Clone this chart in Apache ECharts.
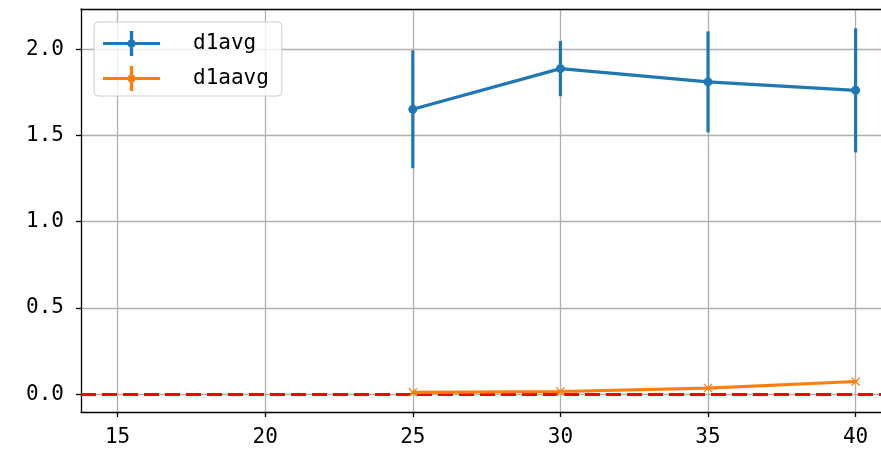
<!DOCTYPE html>
<html>
<head>
<meta charset="utf-8">
<script src="https://cdn.jsdelivr.net/npm/echarts@6/dist/echarts.min.js"></script>
<style>
html,body{margin:0;padding:0;background:#fff;}
#chart{width:881px;height:456px;}
</style>
</head>
<body>
<div id="chart"></div>
<script>
// ---- data ----
const xValues = [25, 30, 35, 40];
const d1avg = [1.652, 1.888, 1.811, 1.762];
const d1avgErr = [0.342, 0.160, 0.293, 0.360];
const d1aavg = [0.010, 0.015, 0.035, 0.073];
const d1aavgErr = [0.005, 0.005, 0.006, 0.006];
const xTicks = [15, 20, 25, 30, 35, 40];
const yTicks = [0, 0.5, 1.0, 1.5, 2.0];
const refLine = 0;

const FONT = "'DejaVu Sans Mono', monospace";
const BLUE = '#1f77b4';
const ORANGE = '#ff7f0e';

const lineData = (ys) => xValues.map((x, i) => [x, ys[i]]);
const errData = (ys, es) => xValues.map((x, i) => [x, ys[i] - es[i], ys[i] + es[i]]);

function errRender(color) {
  return function (params, api) {
    const x = api.value(0);
    const p1 = api.coord([x, api.value(1)]);
    const p2 = api.coord([x, api.value(2)]);
    return {
      type: 'line',
      shape: { x1: p1[0], y1: p1[1], x2: p2[0], y2: p2[1] },
      style: { stroke: color, lineWidth: 3.2 }
    };
  };
}

const legendIcon = 'path://M0,11 L57,11 L57,14 L0,14 Z M26.8,0 L30.2,0 L30.2,25 L26.8,25 Z M24.5,12.5 A4,4 0 1,1 32.5,12.5 A4,4 0 1,1 24.5,12.5 Z';
const xSymbol = 'path://M1,0 L5,4 L9,0 L10,1 L6,5 L10,9 L9,10 L5,6 L1,10 L0,9 L4,5 L0,1 Z';

const chart = echarts.init(document.getElementById('chart'), null, { renderer: 'canvas' });
chart.setOption({
  animation: false,
  backgroundColor: '#ffffff',
  textStyle: { fontFamily: FONT },
  grid: { left: 81, top: 9, right: 0, bottom: 44, containLabel: false },
  legend: {
    data: ['d1avg', 'd1aavg'],
    left: 94, top: 22,
    orient: 'vertical',
    itemWidth: 57, itemHeight: 25,
    itemGap: 10,
    padding: [9, 13, 5, 9],
    backgroundColor: 'rgba(255,255,255,0.8)',
    borderColor: '#cccccc', borderWidth: 1, borderRadius: 4,
    icon: legendIcon,
    itemStyle: { borderWidth: 0, opacity: 1 },
    textStyle: { fontFamily: FONT, fontSize: 21, color: '#000', padding: [0, 0, 0, 28] }
  },
  xAxis: [{
    type: 'value', min: 13.76, max: 40.86,
    axisLine: { show: true, onZero: false, lineStyle: { color: '#000', width: 1.3 } },
    axisTick: { show: true, length: 5, inside: false, customValues: xTicks, lineStyle: { color: '#000', width: 1.3 } },
    axisLabel: { customValues: xTicks, fontFamily: FONT, fontSize: 21, color: '#000', margin: 15 },
    splitLine: { show: true, lineStyle: { color: '#b0b0b0', width: 1.3 } }
  }, {
    type: 'value', min: 13.76, max: 40.86, position: 'top',
    axisLine: { show: true, onZero: false, lineStyle: { color: '#000', width: 1.3 } },
    axisTick: { show: false }, axisLabel: { show: false }, splitLine: { show: false }
  }],
  yAxis: {
    type: 'value', min: -0.104, max: 2.234,
    axisLine: { show: true, onZero: false, lineStyle: { color: '#000', width: 1.3 } },
    axisTick: { show: true, length: 5, inside: false, customValues: yTicks, lineStyle: { color: '#000', width: 1.3 } },
    axisLabel: { customValues: yTicks, fontFamily: FONT, fontSize: 21, color: '#000', margin: 17,
      padding: [4, 0, 0, 0], formatter: (v) => v.toFixed(1) },
    splitLine: { show: true, lineStyle: { color: '#b0b0b0', width: 1.3 } }
  },
  series: [
    {
      name: 'd1avg err', type: 'custom', renderItem: errRender(BLUE),
      data: errData(d1avg, d1avgErr), encode: { x: 0, y: [1, 2] }, z: 3, silent: true
    },
    {
      name: 'd1avg', type: 'line', data: lineData(d1avg), color: BLUE,
      symbol: 'circle', symbolSize: 9, showSymbol: true,
      lineStyle: { color: BLUE, width: 3.2 }, itemStyle: { color: BLUE, borderWidth: 0 }, z: 4
    },
    {
      name: 'd1aavg err', type: 'custom', renderItem: errRender(ORANGE),
      data: errData(d1aavg, d1aavgErr), encode: { x: 0, y: [1, 2] }, z: 6, silent: true
    },
    {
      name: 'd1aavg', type: 'line', data: lineData(d1aavg), color: ORANGE,
      symbol: xSymbol, symbolSize: 9, showSymbol: true,
      lineStyle: { color: ORANGE, width: 3.2 }, itemStyle: { color: ORANGE, borderWidth: 0 }, z: 7,
      markLine: {
        silent: true, symbol: 'none', label: { show: false }, z: 5,
        lineStyle: { color: '#ff0000', type: [15, 6], width: 3.2, opacity: 1 },
        data: [{ yAxis: refLine }]
      }
    }
  ]
});
</script>
</body>
</html>
